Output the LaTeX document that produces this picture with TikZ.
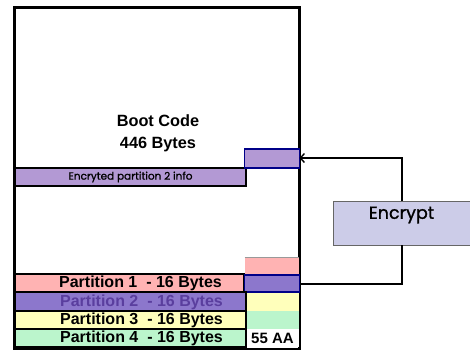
\documentclass[tikz,border=0pt]{standalone}
\usepackage{fontspec}
\setmainfont{Liberation Sans}
\newfontfamily\gothic{Poppins}
\newfontfamily\gothicbold[FakeBold=1.2]{Poppins}
\usetikzlibrary{arrows.meta}
\definecolor{pinkrow}{HTML}{FFB3B3}
\definecolor{purplerow}{HTML}{8C77CC}
\definecolor{purpletext}{HTML}{5A3E9E}
\definecolor{yellowrow}{HTML}{FFFFBB}
\definecolor{greenrow}{HTML}{BBF5CC}
\definecolor{lavstrip}{HTML}{B399D4}
\definecolor{encfill}{HTML}{CCCCE8}
\definecolor{navyline}{HTML}{000088}
\tikzset{
  cell/.style={draw=black, line width=1.2pt, inner sep=0pt, outer sep=0pt,
    anchor=north west, font=\bfseries\fontsize{15}{16}\selectfont},
  rowtext/.style={anchor=center, inner sep=0pt, font=\bfseries\fontsize{16}{17}\selectfont},
  navycell/.style={cell, draw=navyline, line width=1.4pt},
  link/.style={draw=black, line width=1.4pt},
}
\begin{document}
\begin{tikzpicture}[x=1pt,y=-1pt]
\useasboundingbox (0,0) rectangle (470,349);
\clip (0,0) rectangle (470,349);

% MBR frame
\node[draw=black, line width=3pt, anchor=north west, minimum width=285pt,
  minimum height=342pt, inner sep=0pt, outer sep=0pt] (mbr) at (14,7) {};
\node[font=\bfseries\fontsize{16.3}{17}\selectfont, align=center] (boot) at (158,133)
  {Boot Code\\[5pt]446 Bytes};

% encrypted copy in boot code area
\node[cell, fill=lavstrip, minimum width=231pt, minimum height=18pt,
  font=\gothicbold\fontsize{10.5}{11}\selectfont] (encinfo) at (15,168) {Encryted partition 2 info};
\node[navycell, fill=lavstrip, minimum width=55pt, minimum height=19pt] (encslot) at (244.5,149) {};

% partition table
\node[cell, draw=none, fill=pinkrow, minimum width=54pt, minimum height=17pt] (pad) at (244.5,257) {};
\draw[black!40, line width=0.6pt] (pad.north west) -- (pad.north east);
\node[cell, fill=pinkrow, minimum width=229pt, minimum height=18pt] (p1) at (15,274) {};
\node[navycell, fill=purplerow, minimum width=55pt, minimum height=17pt] (p1slot) at (244.5,275) {};
\node[cell, fill=purplerow, line width=1.8pt, minimum width=231pt, minimum height=19pt] (p2) at (15,292) {};
\node[cell, draw=none, fill=yellowrow, minimum width=52pt, minimum height=18pt] (p2slot) at (246.5,293) {};
\node[cell, fill=yellowrow, minimum width=231pt, minimum height=18pt] (p3) at (15,311) {};
\node[cell, draw=none, fill=greenrow, minimum width=52pt, minimum height=18pt] (p3slot) at (246.5,311) {};
\node[cell, fill=greenrow, minimum width=231pt, minimum height=18pt] (p4) at (15,329) {};
\node[cell, draw=none, fill=white, minimum width=52pt, minimum height=18pt] (sig) at (246.5,329) {55 AA};

% row labels
\node[rowtext] (t1) at ([xshift=11pt,yshift=-0.5pt]p1.center) {Partition 1\ \ - 16 Bytes};
\node[rowtext, text=purpletext] (t2) at ([xshift=11pt,yshift=-0.5pt]p2.center) {Partition 2\ \ - 16 Bytes};
\node[rowtext] (t3) at ([xshift=11pt,yshift=-0.5pt]p3.center) {Partition 3\ \ - 16 Bytes};
\node[rowtext] (t4) at ([xshift=11pt,yshift=-0.5pt]p4.center) {Partition 4\ \ - 16 Bytes};

% encryption step
\node[draw=black!60, line width=0.6pt, fill=encfill, anchor=north west,
  minimum width=140pt, minimum height=44pt, inner sep=0pt, outer sep=0pt] (enc) at (333,201) {};
\node[font=\gothicbold\fontsize{17.5}{18}\selectfont] (enclabel) at (401.5,215) {Encrypt};

\coordinate (topbend) at (402,158);
\coordinate (botbend) at (402,284);
\draw[link] (enc.south -| botbend) -- (botbend) -- (botbend -| p1slot.east);
\draw[link, -{Straight Barb[length=4pt,width=9pt]}] (enc.north -| topbend) -- (topbend) -- (topbend -| encslot.east);
\end{tikzpicture}
\end{document}
